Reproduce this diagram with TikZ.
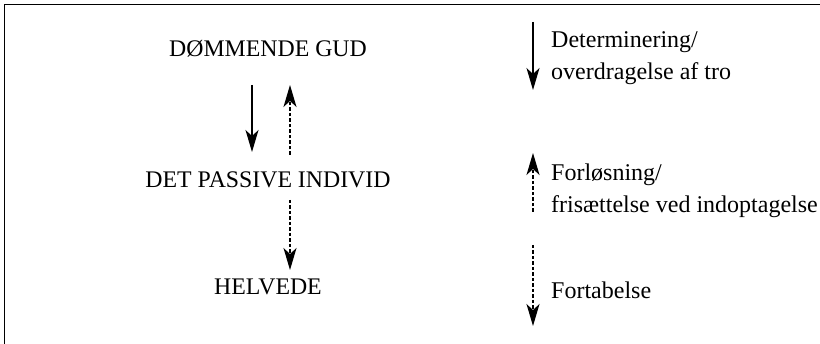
\documentclass[tikz,border=0pt]{standalone}
\usepackage{fontspec}
\setmainfont{Liberation Serif}
\usetikzlibrary{arrows.meta,calc}
\begin{document}
\begin{tikzpicture}[x=1pt,y=-1pt,
  lbl/.style={inner sep=0pt,anchor=base,font=\fontsize{23.8}{32}\selectfont},
  leg/.style={inner sep=0pt,anchor=west,align=left,font=\fontsize{24}{32}\selectfont},
  pil/.style={line width=1.2pt,-{Stealth[length=22pt,width=13pt,inset=6pt]}},
  stiplet/.style={pil,dash pattern=on 3.5pt off 2pt}]
\useasboundingbox (0,0) rectangle (820,344);
\draw[line width=1.4pt] (4.5,344) -- (4.5,4.5) -- (820,4.5);
% hovedfigur
\node[lbl] (gud) at (268,57) {DØMMENDE GUD};
\node[lbl] (individ) at (268,188) {DET PASSIVE INDIVID};
\node[lbl] (helvede) at (268,295) {HELVEDE};
\draw[pil] ($(gud.base)+(-16,28)$) -- ($(individ.base)+(-16,-36)$);
\draw[stiplet] ($(individ.base)+(22,-33)$) -- ($(gud.base)+(22,28)$);
\draw[stiplet] ($(individ.base)+(22,12)$) -- ($(helvede.base)+(22,-25)$);
% forklaring
\node[leg] (det) at (551,58.5) {Determinering/\\overdragelse af tro};
\node[leg] (forl) at (551,190.5) {Forløsning/\\frisættelse ved indoptagelse};
\node[leg] (fort) at (551,290) {Fortabelse};
\draw[pil] ($(det.west)+(-18,-36.5)$) -- ($(det.west)+(-18,31.5)$);
\draw[stiplet] ($(forl.west)+(-18,21.5)$) -- ($(forl.west)+(-18,-37.5)$);
\draw[stiplet] ($(fort.west)+(-18,-45)$) -- ($(fort.west)+(-18,36)$);
\end{tikzpicture}
\end{document}
